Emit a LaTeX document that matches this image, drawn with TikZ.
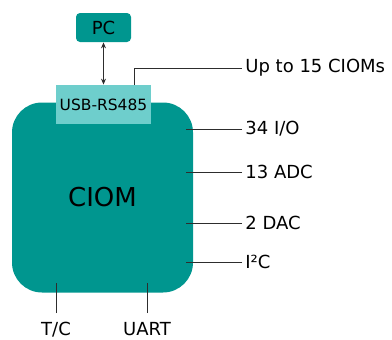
\documentclass[tikz,border=0pt]{standalone}
\usepackage{fontspec}
\setmainfont{DejaVu Sans}
\usetikzlibrary{arrows.meta}
\definecolor{ciomteal}{RGB}{0,150,143}
\definecolor{usbteal}{RGB}{110,206,204}
\definecolor{wire}{RGB}{45,45,45}
\begin{document}
\begin{tikzpicture}[x=1pt,y=-1pt,line width=0.8pt,
		box/.style={fill=ciomteal,inner sep=0pt},
		lbl/.style={font=\fontsize{18}{20}\selectfont,inner sep=3pt}]
				\useasboundingbox (0,0) rectangle (392,340);
				\node[box,rounded corners=30pt,minimum width=181pt,minimum height=190pt,font=\fontsize{26}{30}\selectfont] (ciom) at (102.5,197.5) {CIOM};
				\node[fill=usbteal,minimum width=95pt,minimum height=39pt,inner sep=0pt,font=\fontsize{15.5}{18}\selectfont] (usb) at (103.5,104.5) {USB-RS485};
				\node[box,rounded corners=4pt,minimum width=55pt,minimum height=29pt,font=\fontsize{18}{20}\selectfont] (pc) at (103.5,27.5) {PC};
				\draw[wire,{Stealth[length=6pt,width=5pt]}-{Stealth[length=6pt,width=5pt]}] (pc.south) -- (usb.north);
				\node[lbl,anchor=west] (cioms) at (242,68) {Up to 15 CIOMs};
				\node[lbl,anchor=west] (io) at (242,129) {34 I/O};
				\node[lbl,anchor=west] (adc) at (242,172) {13 ADC};
				\node[lbl,anchor=west] (dac) at (242,223) {2 DAC};
				\node[lbl,anchor=west] (iic) at (242,262) {I²C};
				\node[lbl] (tc) at (56,329.5) {T/C};
				\node[lbl] (uart) at (147,329.5) {UART};
				\draw[wire] (usb.north east) ++(-17,0) |- (cioms.west);
				\foreach \n in {io,adc,dac,iic}
					\draw[wire] (\n.west) -- +(-56,0);
				\foreach \n in {tc,uart}
					\draw[wire] (\n) ++(0,-16.5) -- ++(0,-30);
			\end{tikzpicture}
\end{document}
